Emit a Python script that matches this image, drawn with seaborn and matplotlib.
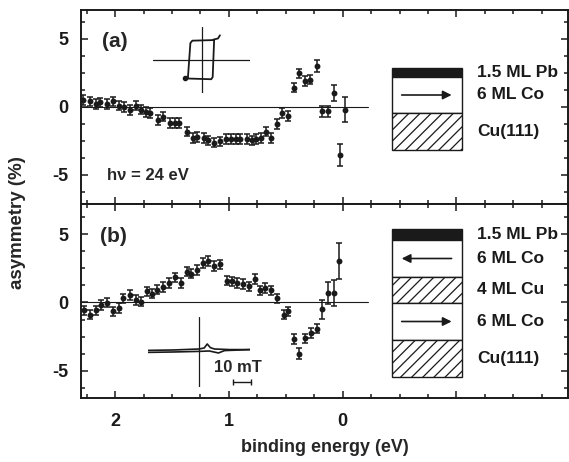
import pandas as pd
import matplotlib
matplotlib.use("Agg")
import matplotlib.pyplot as plt
from matplotlib.patches import Rectangle
from matplotlib.ticker import MultipleLocator, FuncFormatter
import seaborn as sns

# panel (a): 1.5 ML Pb / 6 ML Co / Cu(111)
energy_a = [2.28, 2.22, 2.17, 2.13, 2.07, 2.02, 1.97, 1.92, 1.87, 1.82, 1.77, 1.73,
            1.69, 1.62, 1.58, 1.52, 1.47, 1.44, 1.37, 1.32, 1.28, 1.22, 1.18, 1.13,
            1.08, 1.03, 0.98, 0.94, 0.90, 0.84, 0.80, 0.76, 0.72, 0.67, 0.63, 0.58,
            0.53, 0.48, 0.43, 0.38, 0.33, 0.29, 0.23, 0.18, 0.13, 0.08, 0.02, -0.02]
asym_a = [0.50, 0.38, 0.21, 0.31, 0.21, 0.38, 0.07, -0.02, -0.26, 0.07, -0.21, -0.40,
          -0.45, -0.98, -0.74, -1.21, -1.21, -1.21, -1.83, -2.31, -2.24, -2.31, -2.48, -2.64,
          -2.55, -2.36, -2.36, -2.36, -2.36, -2.36, -2.48, -2.36, -2.31, -1.83, -2.31, -1.29,
          -0.45, -0.69, 1.40, 2.45, 1.88, 1.98, 3.00, -0.33, -0.33, 0.98, -3.55, -0.21]
err_a = [0.35] * 42 + [0.45, 0.40, 0.40, 0.60, 0.80, 0.95]

# panel (b): 1.5 ML Pb / 6 ML Co / 4 ML Cu / 6 ML Co / Cu(111)
energy_b = [2.27, 2.22, 2.17, 2.12, 2.07, 2.02, 1.97, 1.93, 1.87, 1.82, 1.77, 1.72,
            1.68, 1.63, 1.58, 1.53, 1.47, 1.42, 1.37, 1.33, 1.28, 1.23, 1.18, 1.13,
            1.08, 1.02, 0.97, 0.93, 0.88, 0.82, 0.77, 0.73, 0.68, 0.63, 0.58, 0.52,
            0.48, 0.43, 0.38, 0.33, 0.28, 0.23, 0.18, 0.13, 0.08, 0.03]
asym_b = [-0.58, -0.89, -0.58, -0.18, -0.01, -0.65, -0.42, 0.30, 0.54, 0.18, 0.06, 0.82,
          0.65, 0.94, 1.13, 1.42, 1.85, 1.42, 2.27, 2.13, 2.37, 2.92, 3.04, 2.68,
          2.80, 1.61, 1.56, 1.42, 1.37, 1.18, 1.73, 0.89, 1.08, 0.89, 0.30, -0.89,
          -0.65, -2.68, -3.75, -2.63, -2.25, -1.92, -0.49, 0.70, 0.70, 3.04]
err_b = [0.35] * 38 + [0.40, 0.35, 0.35, 0.35, 0.70, 0.80, 0.95, 1.30]

# hysteresis loops (field, magnetisation in arbitrary units)
loop_a_h = [-0.34, 0.20, 0.23, 0.26, -0.19, -0.23, -0.28, -0.34]
loop_a_m = [-0.92, -0.96, -0.85, 1.00, 0.97, 0.85, -0.85, -0.92]
tip_a_h = [0.24, 0.34, 0.38]
tip_a_m = [1.02, 1.08, 1.24]
loop_b_up_h = [-1.0, -0.5, 0.0, 0.10, 0.16, 0.22, 0.30, 0.60, 1.0]
loop_b_up_m = [-0.02, 0.0, 0.05, 0.10, 0.30, 0.12, 0.05, 0.02, 0.02]
loop_b_dn_h = [-1.0, -0.5, 0.0, 0.20, 0.38, 0.50, 1.0]
loop_b_dn_m = [-0.12, -0.10, -0.07, -0.05, -0.15, -0.03, 0.02]

# layer stacks: label, thickness (px), kind
layers_a = [("1.5 ML Pb", 9, "pb"), ("6 ML Co", 36, "co_right"), ("Cu(111)", 37, "cu")]
layers_b = [("1.5 ML Pb", 11, "pb"), ("6 ML Co", 37, "co_left"), ("4 ML Cu", 26, "cu"),
            ("6 ML Co", 37, "co_right"), ("Cu(111)", 37, "cu")]

sns.set_theme(style="ticks")
plt.rcParams["font.family"] = ["Liberation Sans", "DejaVu Sans"]
plt.rcParams["font.weight"] = "bold"
plt.rcParams["axes.unicode_minus"] = False
plt.rcParams["hatch.linewidth"] = 0.9

W, H = 569, 462
fig = plt.figure(figsize=(W / 100, H / 100), dpi=100)
ax_a = fig.add_axes([81 / W, 1 - 204 / H, 487 / W, 194 / H])
ax_b = fig.add_axes([81 / W, 1 - 398 / H, 487 / W, 194 / H])
AX_H = 194.0


def draw_panel(ax, energy, asym, err, ylim):
    df = pd.DataFrame({"energy": energy, "asym": asym, "err": err})
    ax.axhline(0, xmin=0, xmax=(368 - 81) / 487, color="k", lw=0.8)
    ax.errorbar(df["energy"], df["asym"], yerr=df["err"], fmt="none", ecolor="k",
                elinewidth=1.1, capsize=2.4, capthick=1.1, zorder=2)
    sns.scatterplot(data=df, x="energy", y="asym", ax=ax, color="k", s=18,
                    linewidth=0, legend=False, zorder=3)
    ax.set_xlim(2.30, -1.98)
    ax.set_ylim(*ylim)
    ax.set_xlabel("")
    ax.set_ylabel("")
    ax.xaxis.set_major_locator(MultipleLocator(1))
    ax.xaxis.set_minor_locator(MultipleLocator(0.25))
    ax.yaxis.set_major_locator(MultipleLocator(5))
    ax.yaxis.set_minor_locator(MultipleLocator(1.25))
    ax.xaxis.set_major_formatter(FuncFormatter(lambda v, p: f"{int(round(v))}" if v > -0.5 else ""))
    ax.yaxis.set_major_formatter(FuncFormatter(lambda v, p: f"{int(round(v))}"))
    ax.tick_params(which="both", direction="in", top=True, right=True, width=1.1,
                   labelsize=13, colors="k")
    ax.tick_params(which="major", length=5)
    ax.tick_params(which="minor", length=3)
    ax.tick_params(axis="y", pad=9)
    ax.tick_params(axis="x", pad=11)
    for sp in ax.spines.values():
        sp.set_linewidth(1.4)
        sp.set_color("k")


def draw_stack(ax, layers, top_px):
    x0, w = 0.638, 0.1437
    y = 1 - top_px / AX_H
    for name, h, kind in layers:
        hf = h / AX_H
        y -= hf
        face = "k" if kind == "pb" else "white"
        hatch = "///" if kind == "cu" else None
        ax.add_patch(Rectangle((x0, y), w, hf, transform=ax.transAxes, facecolor=face,
                               edgecolor="k", lw=1.0, hatch=hatch, zorder=4, clip_on=False))
        yc = y + hf / 2
        if kind.startswith("co"):
            a, b = (0.6585, 0.761) if kind == "co_right" else (0.761, 0.6585)
            ax.annotate("", xy=(b, yc), xytext=(a, yc), xycoords="axes fraction",
                        arrowprops=dict(arrowstyle="-|>", color="k", lw=1.2,
                                        mutation_scale=13, shrinkA=0, shrinkB=0), zorder=5)
        ax.text(0.813, yc, name, transform=ax.transAxes, va="center", ha="left",
                fontsize=12.5, fontweight="bold", color="k")


draw_panel(ax_a, energy_a, asym_a, err_a, (-7.15, 7.1))
draw_panel(ax_b, energy_b, asym_b, err_b, (-7.02, 7.24))
ax_a.tick_params(axis="x", labelbottom=False)

draw_stack(ax_a, layers_a, 58)
draw_stack(ax_b, layers_b, 25)

ax_a.text(0.0425, 0.84, "(a)", transform=ax_a.transAxes, fontsize=15, fontweight="bold", va="center")
ax_b.text(0.040, 0.831, "(b)", transform=ax_b.transAxes, fontsize=15, fontweight="bold", va="center")
ax_a.text(0.053, 0.149, "h\u03bd = 24 eV", transform=ax_a.transAxes, fontsize=12,
          fontweight="bold", va="center")

# hysteresis insets
ins_a = ax_a.inset_axes([0.148, 0.572, 0.199, 0.340])
ins_a.set_xlim(-1, 1)
ins_a.set_ylim(-1.65, 1.65)
ins_a.axis("off")
ins_a.axhline(0, color="k", lw=0.9)
ins_a.axvline(0, color="k", lw=0.9)
ins_a.plot(loop_a_h, loop_a_m, color="k", lw=1.3)
ins_a.plot(tip_a_h, tip_a_m, color="k", lw=1.3)
ins_a.plot(loop_a_h[:1], loop_a_m[:1], "ko", ms=3)

ins_b = ax_b.inset_axes([0.138, 0.0567, 0.209, 0.361])
ins_b.set_xlim(-1, 1)
ins_b.set_ylim(-1.85, 1.65)
ins_b.axis("off")
ins_b.axvline(0, color="k", lw=0.9)
ins_b.plot(loop_b_up_h, loop_b_up_m, color="k", lw=1.2)
ins_b.plot(loop_b_dn_h, loop_b_dn_m, color="k", lw=1.2)
ins_b.text(0.76, -0.9, "10 mT", fontsize=12, fontweight="bold", ha="center", va="center")
ins_b.plot([0.66, 1.02], [-1.6, -1.6], color="k", lw=1.0, marker="|", ms=5, clip_on=False)

fig.text(18 / W, 1 - 223 / H, "asymmetry (%)", rotation=90, ha="center", va="center",
         fontsize=13.5, fontweight="bold")
fig.text(325 / W, 1 - 447 / H, "binding energy (eV)", ha="center", va="center",
         fontsize=13, fontweight="bold")

fig.savefig("out.png", dpi=100, facecolor="white")
